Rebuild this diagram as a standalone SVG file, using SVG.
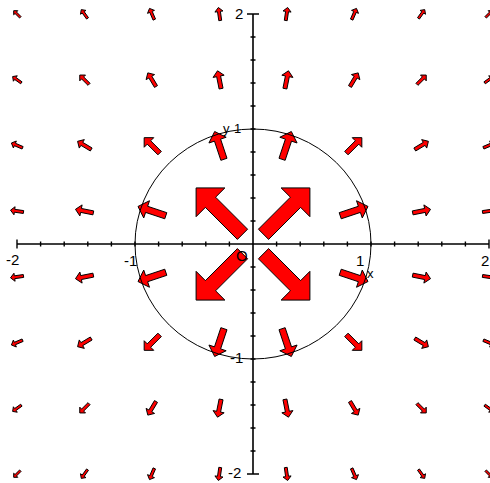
<svg xmlns="http://www.w3.org/2000/svg" xmlns:xlink="http://www.w3.org/1999/xlink" width="490" height="483" viewBox="0 0 490 483">
<style>
.ar{fill:#ff0000;stroke:#000;stroke-width:1;stroke-linejoin:miter}
.ax{fill:none;stroke:#000;stroke-width:1.6}
.tk{fill:none;stroke:#000;stroke-width:1.4}
.cr{fill:none;stroke:#000;stroke-width:1}
text{font-family:"Liberation Sans",Arial,sans-serif;font-size:15px;fill:#000}
</style>
<defs>
<path id="a" class="ar" vector-effect="non-scaling-stroke" d="M-0.5,-0.11 L0.19,-0.11 L0.19,-0.31 L0.5,0 L0.19,0.31 L0.19,0.11 L-0.5,0.11 Z"/>
</defs>
<rect width="490" height="483" fill="#fff"/>
<g id="field">
<use href="#a" transform="translate(17,14) rotate(-135) scale(9.37)"/>
<use href="#a" transform="translate(84.4,14) rotate(-125.54) scale(10.78)"/>
<use href="#a" transform="translate(151.9,14) rotate(-113.2) scale(12.18)"/>
<use href="#a" transform="translate(219.3,14) rotate(-98.13) scale(13.12)"/>
<use href="#a" transform="translate(286.7,14) rotate(-81.87) scale(13.12)"/>
<use href="#a" transform="translate(354.1,14) rotate(-66.8) scale(12.18)"/>
<use href="#a" transform="translate(421.6,14) rotate(-54.46) scale(10.78)"/>
<use href="#a" transform="translate(489,14) rotate(-45) scale(9.37)"/>

<use href="#a" transform="translate(17,79.7) rotate(-144.46) scale(10.78)"/>
<use href="#a" transform="translate(84.4,79.7) rotate(-135) scale(13.12)"/>
<use href="#a" transform="translate(151.9,79.7) rotate(-120.96) scale(15.91)"/>
<use href="#a" transform="translate(219.3,79.7) rotate(-101.31) scale(18.19)"/>
<use href="#a" transform="translate(286.7,79.7) rotate(-78.69) scale(18.19)"/>
<use href="#a" transform="translate(354.1,79.7) rotate(-59.04) scale(15.91)"/>
<use href="#a" transform="translate(421.6,79.7) rotate(-45) scale(13.12)"/>
<use href="#a" transform="translate(489,79.7) rotate(-35.54) scale(10.78)"/>

<use href="#a" transform="translate(17,145.4) rotate(-156.8) scale(12.18)"/>
<use href="#a" transform="translate(84.4,145.4) rotate(-149.04) scale(15.91)"/>
<use href="#a" transform="translate(151.9,145.4) rotate(-135) scale(21.86)"/>
<use href="#a" transform="translate(219.3,145.4) rotate(-108.43) scale(29.3)"/>
<use href="#a" transform="translate(286.7,145.4) rotate(-71.57) scale(29.3)"/>
<use href="#a" transform="translate(354.1,145.4) rotate(-45) scale(21.86)"/>
<use href="#a" transform="translate(421.6,145.4) rotate(-30.96) scale(15.91)"/>
<use href="#a" transform="translate(489,145.4) rotate(-23.2) scale(12.18)"/>

<use href="#a" transform="translate(17,211.1) rotate(-171.87) scale(13.12)"/>
<use href="#a" transform="translate(84.4,211.1) rotate(-168.69) scale(18.19)"/>
<use href="#a" transform="translate(151.9,211.1) rotate(-161.57) scale(29.3)"/>
<use href="#a" transform="translate(219.3,211.1) rotate(-135) scale(65.6)"/>
<use href="#a" transform="translate(286.7,211.1) rotate(-45) scale(65.6)"/>
<use href="#a" transform="translate(354.1,211.1) rotate(-18.43) scale(29.3)"/>
<use href="#a" transform="translate(421.6,211.1) rotate(-11.31) scale(18.19)"/>
<use href="#a" transform="translate(489,211.1) rotate(-8.13) scale(13.12)"/>

<use href="#a" transform="translate(17,276.9) rotate(171.87) scale(13.12)"/>
<use href="#a" transform="translate(84.4,276.9) rotate(168.69) scale(18.19)"/>
<use href="#a" transform="translate(151.9,276.9) rotate(161.57) scale(29.3)"/>
<use href="#a" transform="translate(219.3,276.9) rotate(135) scale(65.6)"/>
<use href="#a" transform="translate(286.7,276.9) rotate(45) scale(65.6)"/>
<use href="#a" transform="translate(354.1,276.9) rotate(18.43) scale(29.3)"/>
<use href="#a" transform="translate(421.6,276.9) rotate(11.31) scale(18.19)"/>
<use href="#a" transform="translate(489,276.9) rotate(8.13) scale(13.12)"/>

<use href="#a" transform="translate(17,342.6) rotate(156.8) scale(12.18)"/>
<use href="#a" transform="translate(84.4,342.6) rotate(149.04) scale(15.91)"/>
<use href="#a" transform="translate(151.9,342.6) rotate(135) scale(21.86)"/>
<use href="#a" transform="translate(219.3,342.6) rotate(108.43) scale(29.3)"/>
<use href="#a" transform="translate(286.7,342.6) rotate(71.57) scale(29.3)"/>
<use href="#a" transform="translate(354.1,342.6) rotate(45) scale(21.86)"/>
<use href="#a" transform="translate(421.6,342.6) rotate(30.96) scale(15.91)"/>
<use href="#a" transform="translate(489,342.6) rotate(23.2) scale(12.18)"/>

<use href="#a" transform="translate(17,408.3) rotate(144.46) scale(10.78)"/>
<use href="#a" transform="translate(84.4,408.3) rotate(135) scale(13.12)"/>
<use href="#a" transform="translate(151.9,408.3) rotate(120.96) scale(15.91)"/>
<use href="#a" transform="translate(219.3,408.3) rotate(101.31) scale(18.19)"/>
<use href="#a" transform="translate(286.7,408.3) rotate(78.69) scale(18.19)"/>
<use href="#a" transform="translate(354.1,408.3) rotate(59.04) scale(15.91)"/>
<use href="#a" transform="translate(421.6,408.3) rotate(45) scale(13.12)"/>
<use href="#a" transform="translate(489,408.3) rotate(35.54) scale(10.78)"/>

<use href="#a" transform="translate(17,474) rotate(135) scale(9.37)"/>
<use href="#a" transform="translate(84.4,474) rotate(125.54) scale(10.78)"/>
<use href="#a" transform="translate(151.9,474) rotate(113.2) scale(12.18)"/>
<use href="#a" transform="translate(219.3,474) rotate(98.13) scale(13.12)"/>
<use href="#a" transform="translate(286.7,474) rotate(81.87) scale(13.12)"/>
<use href="#a" transform="translate(354.1,474) rotate(66.8) scale(12.18)"/>
<use href="#a" transform="translate(421.6,474) rotate(54.46) scale(10.78)"/>
<use href="#a" transform="translate(489,474) rotate(45) scale(9.37)"/>
</g>
<g id="circle">
<ellipse class="cr" cx="253" cy="244" rx="118" ry="115"/>
</g>
<g id="axes">
<path class="ax" d="M17,244 H489 M253,14 V474"/>
<path class="tk" d="M17,239.5 v9 M489,239.5 v9 M247,14 h12 M247,474 h12
M40.6,241.5 v5 M64.2,241.5 v5 M87.8,241.5 v5 M111.4,241.5 v5 M135,241.5 v5 M158.6,241.5 v5 M182.2,241.5 v5 M205.8,241.5 v5 M229.4,241.5 v5
M276.6,241.5 v5 M300.2,241.5 v5 M323.8,241.5 v5 M347.4,241.5 v5 M371,241.5 v5 M394.6,241.5 v5 M418.2,241.5 v5 M441.8,241.5 v5 M465.4,241.5 v5
M250.5,37 h5 M250.5,60 h5 M250.5,83 h5 M250.5,106 h5 M250.5,129 h5 M250.5,152 h5 M250.5,175 h5 M250.5,198 h5 M250.5,221 h5
M250.5,267 h5 M250.5,290 h5 M250.5,313 h5 M250.5,336 h5 M250.5,359 h5 M250.5,382 h5 M250.5,405 h5 M250.5,428 h5 M250.5,451 h5"/>
</g>
<g id="labels">
<text x="6" y="265">-2</text>
<text x="124" y="266">-1</text>
<text x="481" y="266">2</text>
<text x="235" y="19">2</text>
<text x="228" y="478">-2</text>
<text x="223" y="133" style="font-size:13px">y</text>
<text x="234" y="133" style="font-size:13px">1</text>
<text x="230" y="363">-1</text>
<text x="236" y="261">O</text>
<text x="356" y="266">1</text>
<text x="367" y="278" style="font-size:13px">x</text>
</g>
</svg>
